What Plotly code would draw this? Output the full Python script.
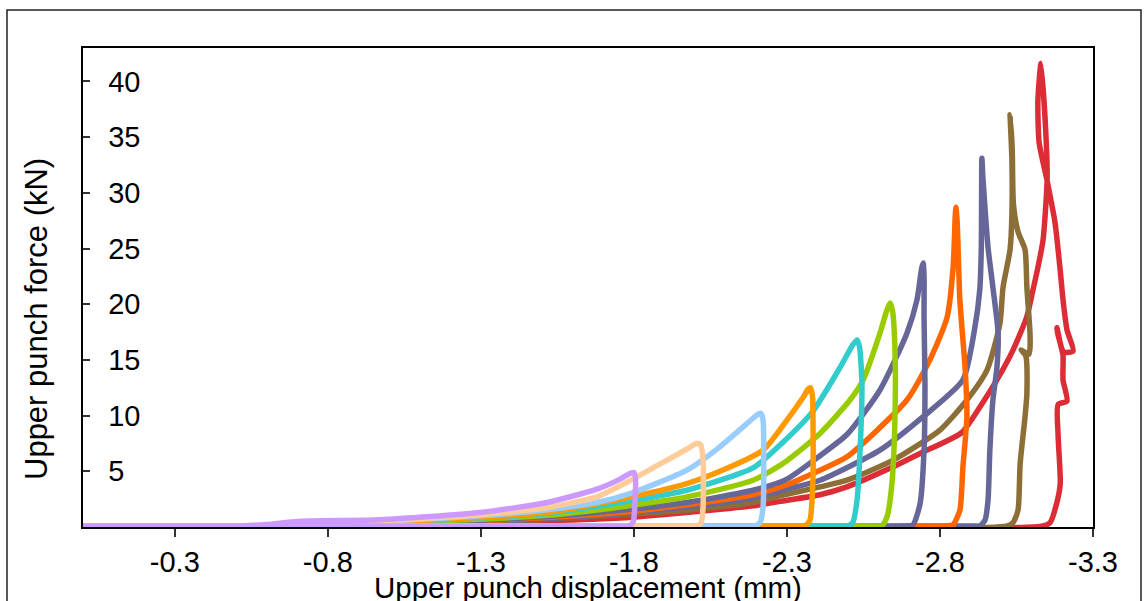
import plotly.graph_objects as go

# ---- data (displacement mm, force kN) ----
x_c1 = [0, -0.45, -0.60, -0.70, -0.97, -1.297, -1.516, -1.679, -1.755, -1.787, -1.800, -1.805, -1.803, -1.798, -1.785, -1.764, 0]
y_c1 = [0, 0.03, 0.22, 0.50, 0.65, 1.30, 2.20, 3.40, 4.30, 4.80, 4.90, 4.40, 2.00, 0.50, 0.10, 0.10, 0.10]

x_c2 = [0, -0.60, -0.97, -1.297, -1.516, -1.679, -1.755, -1.862, -1.973, -2.005, -2.018, -2.026, -2.026, -2.020, -2.005, -1.983, 0]
y_c2 = [0, 0.15, 0.55, 1.10, 1.75, 2.70, 3.70, 5.30, 7.00, 7.50, 7.40, 6.00, 1.80, 0.40, 0.10, 0.10, 0.10]

x_c3 = [0, -0.60, -0.97, -1.297, -1.516, -1.679, -1.787, -1.973, -2.081, -2.170, -2.205, -2.215, -2.222, -2.224, -2.222, -2.212, -2.195, -2.175, 0]
y_c3 = [0, 0.12, 0.50, 1.00, 1.55, 2.20, 3.00, 5.10, 7.20, 9.30, 10.10, 10.20, 9.60, 7.20, 1.80, 0.40, 0.10, 0.10, 0.10]

x_c4 = [0, -0.60, -0.97, -1.297, -1.516, -1.755, -1.973, -2.081, -2.222, -2.300, -2.352, -2.370, -2.377, -2.384, -2.385, -2.385, -2.375, -2.360, -2.345, 0]
y_c4 = [0, 0.10, 0.45, 0.85, 1.30, 2.50, 3.90, 5.00, 6.90, 9.60, 11.6, 12.4, 12.5, 11.6, 10.2, 4.20, 0.60, 0.10, 0.10, 0.10]

x_c5 = [0, -0.60, -0.97, -1.297, -1.516, -1.755, -1.973, -2.189, -2.287, -2.385, -2.473, -2.516, -2.529, -2.537, -2.545, -2.539, -2.529, -2.515, -2.500, -2.480, 0]
y_c5 = [0, 0.10, 0.40, 0.80, 1.20, 2.20, 3.30, 5.30, 7.60, 10.4, 14.3, 16.4, 16.8, 16.2, 12.9, 6.90, 2.40, 0.40, 0.10, 0.10, 0.10]

x_c6 = [0, -0.60, -0.97, -1.297, -1.516, -1.755, -1.973, -2.189, -2.287, -2.408, -2.506, -2.549, -2.604, -2.627, -2.637, -2.645, -2.653, -2.653, -2.643, -2.627, -2.610, -2.590, 0]
y_c6 = [0, 0.08, 0.37, 0.70, 1.05, 1.80, 2.70, 4.20, 5.70, 8.40, 11.4, 13.2, 17.4, 19.5, 20.1, 19.4, 15.9, 9.90, 3.90, 0.90, 0.10, 0.10, 0.10]

x_c7 = [0, -0.60, -0.97, -1.297, -1.516, -1.755, -1.973, -2.189, -2.300, -2.408, -2.496, -2.604, -2.692, -2.725, -2.740, -2.745, -2.748, -2.748, -2.751, -2.748, -2.735, -2.712, -2.690, 0]
y_c7 = [0, 0.07, 0.33, 0.60, 0.95, 1.50, 2.20, 3.30, 4.30, 6.40, 8.30, 12.3, 17.4, 20.4, 23.2, 23.7, 22.5, 18.8, 12.9, 6.90, 2.10, 0.20, 0.10, 0.10]

x_c8 = [0, -0.60, -0.97, -1.297, -1.516, -1.755, -1.973, -2.189, -2.300, -2.408, -2.496, -2.692, -2.767, -2.823, -2.843, -2.850, -2.852, -2.856, -2.865, -2.882, -2.888, -2.875, -2.865, -2.843, -2.820, 0]
y_c8 = [0, 0.06, 0.30, 0.55, 0.85, 1.30, 2.00, 2.90, 3.80, 5.10, 6.30, 11.4, 15.0, 18.8, 23.3, 28.0, 28.7, 27.5, 20.4, 14.3, 9.90, 5.40, 1.50, 0.20, 0.10, 0.10]

x_c9 = [0, -0.60, -0.97, -1.297, -1.516, -1.755, -1.973, -2.189, -2.300, -2.408, -2.604, -2.745, -2.875, -2.914, -2.930, -2.935, -2.937, -2.940, -2.947, -2.957, -2.973, -2.990, -2.986, -2.973, -2.963, -2.957, -2.947, -2.930, -2.910, 0]
y_c9 = [0, 0.05, 0.28, 0.50, 0.75, 1.20, 1.80, 2.60, 3.40, 4.20, 6.90, 9.90, 13.2, 17.9, 21.3, 25.0, 33.1, 31.5, 28.7, 25.1, 21.5, 17.4, 14.3, 11.4, 6.90, 2.40, 0.60, 0.10, 0.10, 0.10]

x_c10 = [0, -0.60, -0.97, -1.297, -1.516, -1.755, -1.973, -2.189, -2.277, -2.408, -2.496, -2.647, -2.800, -2.888, -2.954, -2.996, -3.006, -3.029, -3.035, -3.035, -3.029,
         -3.036, -3.040, -3.055, -3.078, -3.084, -3.094, -3.094, -3.090, -3.065, -3.080, -3.084, -3.078, -3.062, -3.055, -3.039, -3.020, 0]
y_c10 = [0, 0.04, 0.25, 0.45, 0.70, 1.10, 1.50, 2.20, 2.80, 3.60, 4.20, 6.00, 8.70, 11.4, 14.1, 18.3, 21.5, 24.9, 28.0, 33.0, 37.0,
         34.0, 29.0, 26.5, 24.9, 21.5, 17.5, 16.0, 15.5, 15.9, 15.4, 12.0, 9.90, 5.70, 1.50, 0.40, 0.10, 0.10]

x_c11 = [0, -0.60, -0.97, -1.297, -1.516, -1.755, -1.973, -2.189, -2.277, -2.408, -2.496, -2.647, -2.735, -2.872, -2.931, -2.986, -3.039, -3.084, -3.104, -3.120, -3.137, -3.150, -3.147, -3.130,
         -3.120, -3.124, -3.150, -3.176, -3.193, -3.202, -3.215, -3.235, -3.205, -3.186, -3.182, -3.193, -3.202, -3.202, -3.215, -3.186, -3.186, -3.193, -3.182, -3.160, -3.137, 0]
y_c11 = [0, 0.03, 0.20, 0.40, 0.55, 0.80, 1.30, 1.90, 2.30, 2.90, 3.60, 5.40, 6.60, 8.50, 10.8, 13.2, 15.9, 18.9, 21.3, 23.3, 25.8, 31.1, 34.7, 41.6,
         38.3, 34.5, 31.1, 27.3, 23.0, 20.4, 17.7, 15.8, 15.7, 17.2, 17.9, 16.5, 15.4, 13.2, 11.3, 11.0, 8.20, 3.90, 2.20, 0.40, 0.10, 0.10]

series = [
    (x_c11, y_c11, "#DC2D37"),
    (x_c10, y_c10, "#8C6E37"),
    (x_c9, y_c9, "#666699"),
    (x_c8, y_c8, "#FF6600"),
    (x_c7, y_c7, "#666699"),
    (x_c6, y_c6, "#99CC00"),
    (x_c5, y_c5, "#33CCCC"),
    (x_c4, y_c4, "#FF9900"),
    (x_c3, y_c3, "#99CCFF"),
    (x_c2, y_c2, "#FFCC99"),
    (x_c1, y_c1, "#CC99FF"),
]

x_ticks = [-0.3, -0.8, -1.3, -1.8, -2.3, -2.8, -3.3]
y_ticks = [0, 5, 10, 15, 20, 25, 30, 35, 40]

FONT = "Liberation Sans, Arial, sans-serif"

fig = go.Figure()
for xs, ys, col in series:
    fig.add_trace(go.Scatter(x=xs, y=ys, mode="lines",
                             line=dict(color=col, width=5.5, shape="spline", smoothing=0.6),
                             showlegend=False, hoverinfo="skip"))

L, R, T, B = 83, 53, 48, 74
W, H = 1146, 601
pw, ph = W - L - R, H - T - B

fig.update_layout(
    width=W, height=H,
    margin=dict(l=L, r=R, t=T, b=B, pad=0),
    paper_bgcolor="white", plot_bgcolor="white",
    font=dict(family=FONT, color="black"),
    showlegend=False,
    xaxis=dict(range=[0, -3.3], tickvals=x_ticks, ticktext=[f"{v:.1f}" for v in x_ticks],
               ticks="outside", ticklen=8, tickwidth=1.5, tickcolor="#333",
               showline=True, linecolor="black", linewidth=2, mirror=True,
               showgrid=False, zeroline=False,
               tickfont=dict(size=29, family=FONT, color="black")),
    yaxis=dict(range=[0, 43], tickvals=y_ticks,
               ticks="inside", ticklen=7, tickwidth=1.5, tickcolor="#333",
               ticklabelposition="inside", ticklabelstandoff=21,
               showline=True, linecolor="black", linewidth=2, mirror=True,
               showgrid=False, zeroline=False,
               tickfont=dict(size=29, family=FONT, color="black")),
)

fig.add_annotation(text="Upper punch displacement (mm)", xref="paper", yref="paper",
                   x=0.5, y=-(587 - 527) / ph, xanchor="center", yanchor="middle",
                   showarrow=False, font=dict(size=29.5, family=FONT, color="black"))
fig.add_annotation(text="Upper punch force (kN)", xref="paper", yref="paper",
                   x=(37 - L) / pw, y=(527 - 319) / ph, xanchor="center", yanchor="middle",
                   textangle=-90, showarrow=False,
                   font=dict(size=31, family=FONT, color="black"))

# outer frame of the chart area
fig.add_shape(type="rect", xref="paper", yref="paper",
              x0=(7 - L) / pw, x1=(1141 - L) / pw, y0=(527 - 640) / ph, y1=(527 - 10) / ph,
              line=dict(color="#222", width=1.5), fillcolor="rgba(0,0,0,0)", layer="below")

fig.write_html("out.html", config={"displayModeBar": False},
               post_script="document.body.style.margin='0px';")
